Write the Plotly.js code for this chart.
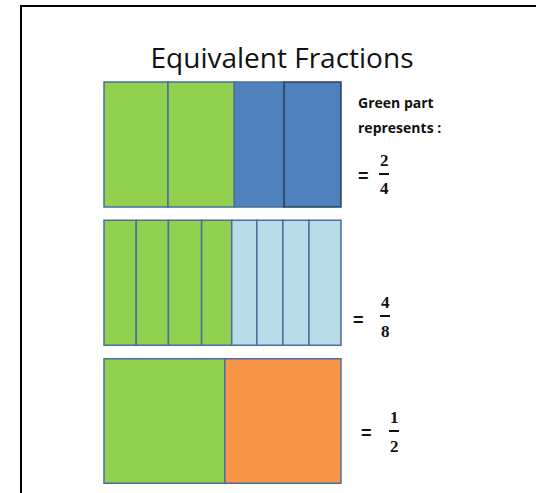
<!DOCTYPE html>
<html>
<head>
<meta charset="utf-8">
<script src="https://cdn.plot.ly/plotly-3.0.1.min.js"></script>
<style>html,body{margin:0;padding:0;background:#fff;}#chart{width:536px;height:493px;}</style>
</head>
<body>
<div id="chart"></div>
<script>
// ---- data (segment widths, whole strip = 1) ----
const rowNames = ["fourths", "eighths", "halves"];
const fourthsWidths = [0.27, 0.28, 0.21, 0.24];
const eighthsWidths = [0.136, 0.136, 0.14, 0.127, 0.106, 0.11, 0.11, 0.135];
const halvesWidths = [0.51, 0.49];
const greenCounts = [2, 4, 1];
const otherColors = ["#4F81BD", "#B7DEE8", "#F79646"];
const numerators = ["2", "4", "1"];
const denominators = ["4", "8", "2"];
const titleText = "Equivalent Fractions";
const noteLines = ["Green part", "represents :"];

const GREEN = "#92D050";
const allWidths = [fourthsWidths, eighthsWidths, halvesWidths];
const traces = allWidths.map((w, r) => {
  const base = [];
  let acc = 0;
  w.forEach(v => { base.push(acc); acc += v; });
  const colors = w.map((v, i) => i < greenCounts[r] ? GREEN : otherColors[r]);
  const lineColors = w.map((v, i) => (r === 0 && i === 3) ? "#2B3F5C" : "#4A6E9E");
  return {
    type: "bar", orientation: "h",
    y: w.map(() => rowNames[r]), x: w, base: base,
    width: r === 2 ? 0.9 : 0.905,
    marker: {color: colors, line: {color: lineColors, width: 1.5}},
    hoverinfo: "skip", showlegend: false
  };
});

// fraction layout (page pixels)
const fracPos = [
  {eq: [363, 176], num: [384, 160], bar: [384, 174], den: [384, 189]},
  {eq: [358, 320], num: [385, 302], bar: [385, 316], den: [385, 331]},
  {eq: [366, 433], num: [394, 417], bar: [394, 431], den: [394, 446]}
];
const W = 536, H = 493, L = 22, T = 7;
const px = (x) => (x - L) / (W - L);
const py = (y) => 1 - (y - T) / (H - T);
const annotations = [];
const shapes = [];
fracPos.forEach((p, i) => {
  const f = {family: "Liberation Serif, DejaVu Serif, serif", size: 17, color: "#111"};
  annotations.push({text: "<b>=</b>", x: px(p.eq[0]), y: py(p.eq[1]), xref: "paper", yref: "paper", showarrow: false, xanchor: "center", yanchor: "middle", font: {family: "Liberation Sans, Arial, sans-serif", size: 18, color: "#111"}});
  annotations.push({text: "<b>" + numerators[i] + "</b>", x: px(p.num[0]), y: py(p.num[1]), xref: "paper", yref: "paper", showarrow: false, xanchor: "center", yanchor: "middle", font: f});
  annotations.push({text: "<b>" + denominators[i] + "</b>", x: px(p.den[0]), y: py(p.den[1]), xref: "paper", yref: "paper", showarrow: false, xanchor: "center", yanchor: "middle", font: f});
  shapes.push({type: "line", xref: "paper", yref: "paper", x0: px(p.bar[0] - 5), x1: px(p.bar[0] + 5), y0: py(p.bar[1]), y1: py(p.bar[1]), line: {color: "#111", width: 2}});
});
noteLines.forEach((t, i) => {
  annotations.push({text: "<b>" + t + "</b>", x: px(356), y: py(102 + i * 25), xref: "paper", yref: "paper", showarrow: false, xanchor: "left", yanchor: "middle", font: {family: "Open Sans, sans-serif", size: 14, color: "#111"}});
});

const layout = {
  width: W, height: H,
  margin: {l: L, r: 0, t: T, b: 0, pad: 0},
  paper_bgcolor: "#fff", plot_bgcolor: "#fff",
  barmode: "overlay",
  title: {text: titleText, x: px(282), xref: "paper", xanchor: "center", y: 1 - 58 / H, yref: "container", yanchor: "middle",
          font: {family: "Open Sans, sans-serif", size: 28, color: "#111"}},
  xaxis: {range: [-0.346, 1.823], side: "top", showline: true, linecolor: "#000", linewidth: 2.5,
          showgrid: false, zeroline: false, showticklabels: false, ticks: "", fixedrange: true},
  yaxis: {type: "category", categoryarray: rowNames, range: [2.521, -0.995], showline: true, linecolor: "#000", linewidth: 2.5,
          showgrid: false, zeroline: false, showticklabels: false, ticks: "", fixedrange: true},
  shapes: shapes,
  annotations: annotations
};
Plotly.newPlot("chart", traces, layout, {displayModeBar: false, staticPlot: true});
</script>
</body>
</html>
